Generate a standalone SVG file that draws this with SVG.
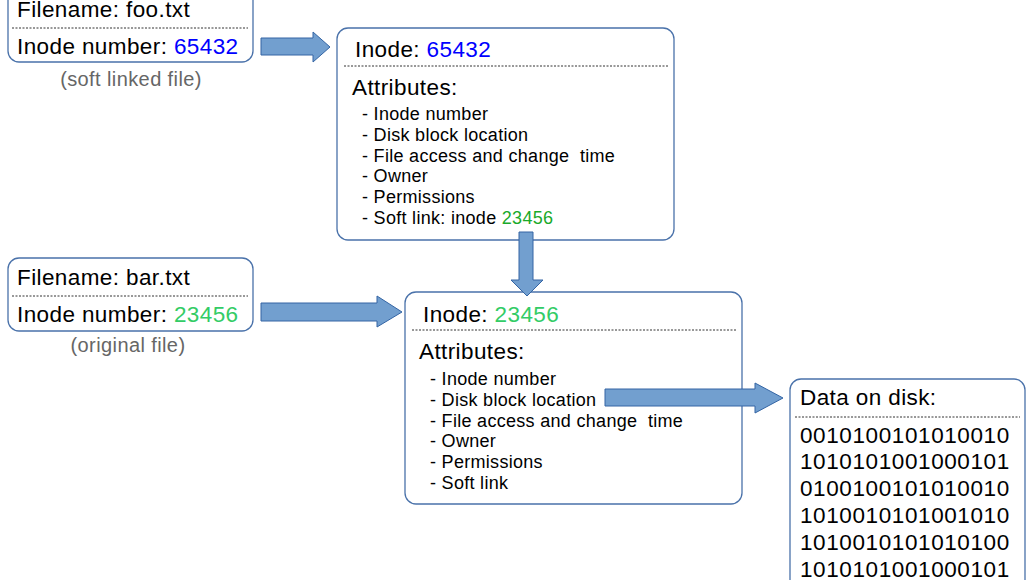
<svg xmlns="http://www.w3.org/2000/svg" width="1034" height="580" viewBox="0 0 1034 580">
<style>
.box{fill:#ffffff;stroke:#4a72aa;stroke-width:1.3}
.sep{stroke:#333333;stroke-width:1;stroke-dasharray:2,1.5}
text{font-family:"Liberation Sans",Arial,sans-serif;fill:#000000}
.big{font-size:22.5px;letter-spacing:0.4px}
.item{font-size:18px;letter-spacing:0.3px}
.cap{font-size:20px;fill:#666666;letter-spacing:0.4px}
.bin{font-size:22.5px;letter-spacing:0.6px}
.blue{fill:#0000ff}
.lg{fill:#33cc66}
.dg{fill:#1aaa2a}
.arrow{fill:#729fcf;stroke:#3465a4;stroke-width:1}
</style>
<rect width="1034" height="580" fill="#ffffff"/>
<g id="node-foo">
<rect class="box" x="8" y="-11" width="245" height="73" rx="11"/>
<line class="sep" x1="12" y1="28" x2="248" y2="28"/>
<text class="big" x="17" y="17">Filename: foo.txt</text>
<text class="big" x="17" y="54">Inode number: <tspan class="blue">65432</tspan></text>
<text class="cap" x="131" y="86" text-anchor="middle">(soft linked file)</text>
</g>
<g id="node-inode-65432">
<rect class="box" x="337" y="28" width="337" height="212" rx="11"/>
<line class="sep" x1="344" y1="66" x2="668" y2="66"/>
<text class="big" x="355" y="57">Inode: <tspan class="blue">65432</tspan></text>
<text class="big" x="352" y="95">Attributes:</text>
<text class="item" x="362" y="120">- Inode number</text>
<text class="item" x="362" y="141">- Disk block location</text>
<text class="item" x="362" y="162" xml:space="preserve">- File access and change  time</text>
<text class="item" x="362" y="182">- Owner</text>
<text class="item" x="362" y="203">- Permissions</text>
<text class="item" x="362" y="224">- Soft link: inode <tspan class="dg">23456</tspan></text>
</g>
<g id="node-bar">
<rect class="box" x="8" y="258" width="245" height="73" rx="11"/>
<line class="sep" x1="12" y1="296" x2="248" y2="296"/>
<text class="big" x="17" y="285">Filename: bar.txt</text>
<text class="big" x="17" y="322">Inode number: <tspan class="lg">23456</tspan></text>
<text class="cap" x="128" y="352" text-anchor="middle">(original file)</text>
</g>
<g id="node-inode-23456">
<rect class="box" x="405" y="292" width="337" height="212" rx="11"/>
<line class="sep" x1="412" y1="330" x2="736" y2="330"/>
<text class="big" x="423" y="322">Inode: <tspan class="lg">23456</tspan></text>
<text class="big" x="419" y="359">Attributes:</text>
<text class="item" x="430" y="385">- Inode number</text>
<text class="item" x="430" y="406">- Disk block location</text>
<text class="item" x="430" y="427" xml:space="preserve">- File access and change  time</text>
<text class="item" x="430" y="447">- Owner</text>
<text class="item" x="430" y="468">- Permissions</text>
<text class="item" x="430" y="489">- Soft link</text>
</g>
<g id="node-data">
<rect class="box" x="790" y="379" width="235" height="230" rx="11"/>
<line class="sep" x1="795" y1="417" x2="1020" y2="417"/>
<text class="big" x="800" y="405">Data on disk:</text>
<text class="bin" x="800" y="443">0010100101010010</text>
<text class="bin" x="800" y="469">1010101001000101</text>
<text class="bin" x="800" y="496">0100100101010010</text>
<text class="bin" x="800" y="523">1010010101001010</text>
<text class="bin" x="800" y="550">1010010101010100</text>
<text class="bin" x="800" y="577">1010101001000101</text>
</g>
<g id="connectors">
<polygon class="arrow" points="261,38 313,38 313,32 330,47 313,62 313,55 261,55"/>
<polygon class="arrow" points="261,303 377,303 377,296 402,312 377,327 377,321 261,321"/>
<polygon class="arrow" points="519,232 533,232 533,280 543,280 527,296 511,280 519,280"/>
<polygon class="arrow" points="605,389 755,389 755,383 783,398 755,413 755,406 605,406"/>
</g>
</svg>
